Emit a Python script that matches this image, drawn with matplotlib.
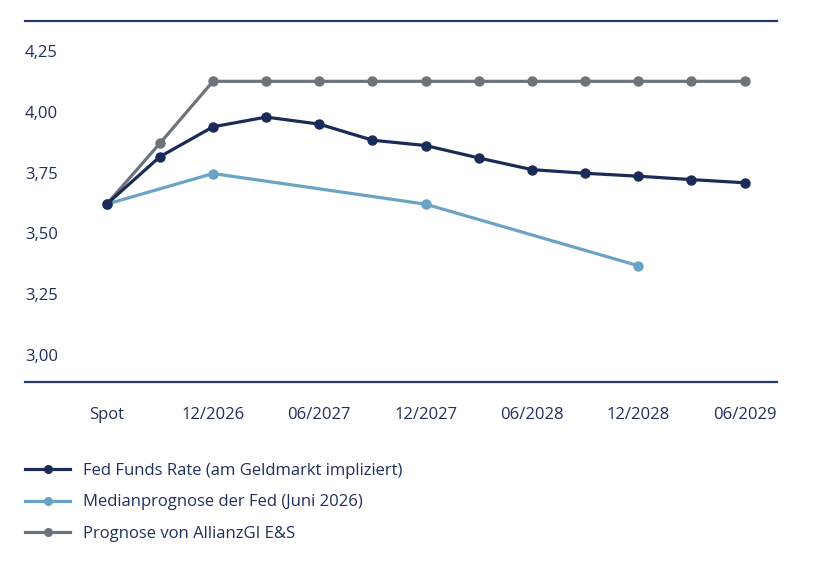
import matplotlib
matplotlib.use("Agg")
import matplotlib.pyplot as plt
import numpy as np

plt.rcParams['font.family'] = ['Open Sans', 'DejaVu Sans']

# Data
positions = list(range(13))
fed_funds = [3.62, 3.815, 3.938, 3.978, 3.949, 3.883, 3.861, 3.81, 3.762, 3.747, 3.735, 3.721, 3.708]
median_pos = [0, 2, 6, 10]
median_vals = [3.62, 3.746, 3.62, 3.367]
allianz = [3.62, 3.87, 4.125, 4.125, 4.125, 4.125, 4.125, 4.125, 4.125, 4.125, 4.125, 4.125, 4.125]
xtick_pos = [0, 2, 4, 6, 8, 10, 12]
xtick_labels = ['Spot', '12/2026', '06/2027', '12/2027', '06/2028', '12/2028', '06/2029']
ytick_vals = [3.00, 3.25, 3.50, 3.75, 4.00, 4.25]
ytick_labels = ['3,00', '3,25', '3,50', '3,75', '4,00', '4,25']
series_labels = ['Fed Funds Rate (am Geldmarkt impliziert)',
                 'Medianprognose der Fed (Juni 2026)',
                 'Prognose von AllianzGI E&S']

navy = '#1b2b57'
light = '#6aa3c4'
grey = '#6b747d'
text_col = '#1f2f5e'

fig = plt.figure(figsize=(8.23, 5.63), dpi=100)
ax = fig.add_axes([25/823, 1-382/563, 752/823, 361/563])

lw = 2.3
ms = 6.5
l1, = ax.plot(positions, fed_funds, color=navy, lw=lw, marker='o', ms=ms, zorder=4, label=series_labels[0])
l2, = ax.plot(median_pos, median_vals, color=light, lw=lw, marker='o', ms=ms, zorder=3, label=series_labels[1])
l3, = ax.plot(positions, allianz, color=grey, lw=lw, marker='o', ms=ms, zorder=2, label=series_labels[2])

ax.set_xlim(-1.537, 12.61)
ax.set_ylim(2.889, 4.373)

for s in ['left', 'right']:
    ax.spines[s].set_visible(False)
for s in ['top', 'bottom']:
    ax.spines[s].set_color('#26386a')
    ax.spines[s].set_linewidth(1.6)

ax.set_yticks(ytick_vals)
ax.set_yticklabels(ytick_labels)
ax.tick_params(axis='y', length=0, pad=0, labelsize=12, labelcolor=text_col)
for lab in ax.get_yticklabels():
    lab.set_horizontalalignment('left')

ax.set_xticks(xtick_pos)
ax.set_xticklabels(xtick_labels)
ax.tick_params(axis='x', length=0, pad=18, labelsize=12, labelcolor=text_col)

leg = fig.legend(handles=[l1, l2, l3], loc='upper left',
                 bbox_to_anchor=(25/823, 1-463/563), frameon=False,
                 fontsize=12, labelcolor=text_col, handlelength=2.7,
                 handletextpad=0.78, labelspacing=0.93, numpoints=1,
                 borderaxespad=0, borderpad=0)
for h in leg.legend_handles:
    h.set_markersize(5.5)

fig.savefig('out.png', dpi=100)
